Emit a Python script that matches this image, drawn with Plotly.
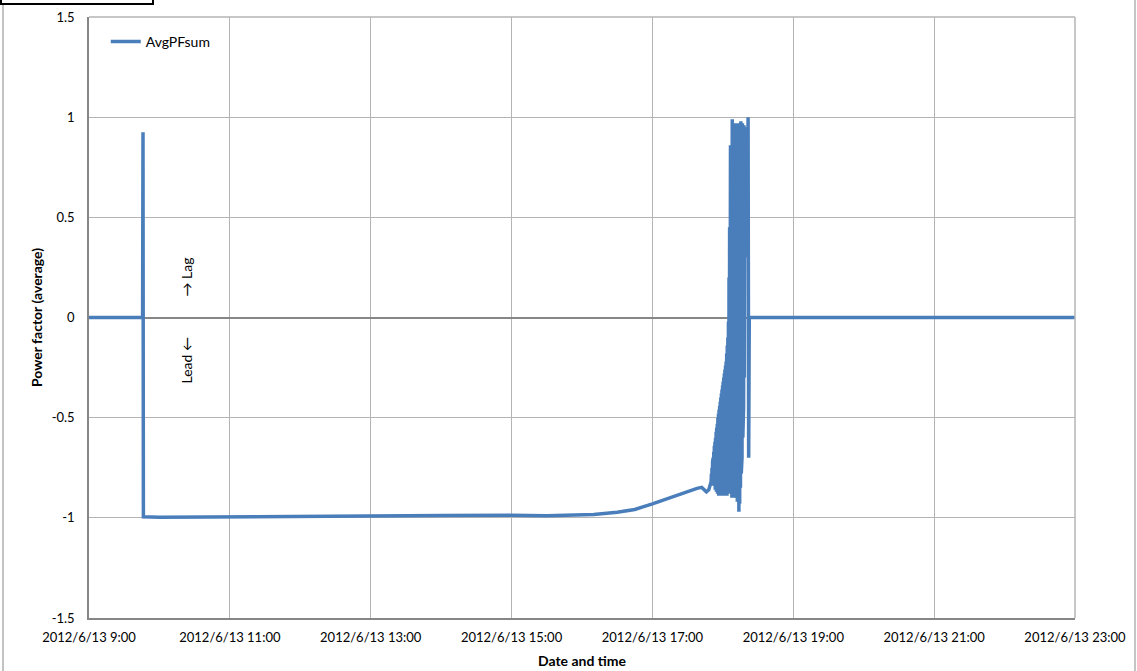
import plotly.graph_objects as go

DATE = "2012-06-13"

times = [
    "09:00:00", "09:45:40", "09:46:00", "09:46:20",
    "10:00:00", "10:30:00", "11:00:00", "11:30:00", "12:00:00", "12:30:00",
    "13:00:00", "13:30:00", "14:00:00", "14:30:00", "15:00:00", "15:30:00",
    "15:50:00", "16:10:00", "16:30:00", "16:45:00", "17:00:00", "17:15:00",
    "17:30:00", "17:38:00", "17:42:00", "17:44:00", "17:46:00", "17:48:00",
    "17:50:00", "17:50:15", "17:50:30", "17:50:45", "17:51:00", "17:51:15",
    "17:51:30", "17:51:45", "17:52:00", "17:52:15", "17:52:30", "17:52:45",
    "17:53:00", "17:53:15", "17:53:30", "17:53:45", "17:54:00", "17:54:15",
    "17:54:30", "17:54:45", "17:55:00", "17:55:15", "17:55:30", "17:55:45",
    "17:56:00", "17:56:15", "17:56:30", "17:56:45", "17:57:00", "17:57:15",
    "17:57:30", "17:57:45", "17:58:00", "17:58:15", "17:58:30", "17:58:45",
    "17:59:00", "17:59:15", "17:59:30", "17:59:45", "18:00:00", "18:00:15",
    "18:00:30", "18:00:45", "18:01:00", "18:01:15", "18:01:30", "18:01:45",
    "18:02:00", "18:02:15", "18:02:30", "18:02:45", "18:03:00", "18:03:15",
    "18:03:30", "18:03:45", "18:04:00", "18:04:15", "18:04:30", "18:04:45",
    "18:05:00", "18:05:15", "18:05:30", "18:05:45", "18:06:00", "18:06:30",
    "18:07:00", "18:07:20", "18:07:40", "18:08:00", "18:08:20", "18:08:40",
    "18:09:00", "18:09:20", "18:09:40", "18:10:00", "18:10:20", "18:10:40",
    "18:11:00", "18:11:20", "18:11:40", "18:12:00", "18:12:20", "18:12:40",
    "18:13:00", "18:13:20", "18:13:40", "18:14:00", "18:14:20", "18:14:40",
    "18:15:00", "18:15:20", "18:15:40", "18:16:00", "18:16:20", "18:16:40",
    "18:17:00", "18:17:20", "18:17:40", "18:18:00", "18:18:20", "18:18:40",
    "18:19:00", "18:19:30", "18:20:00", "18:20:30", "18:21:00", "18:21:30",
    "18:22:00", "18:22:30", "23:00:00",
]

avg_pf_sum = [
    0.0, 0.0, 0.925, -0.995,
    -0.997, -0.996, -0.997, -0.996, -0.997, -0.995,
    -0.993, -0.990, -0.988, -0.986, -0.987, -0.990,
    -0.988, -0.983, -0.972, -0.958, -0.930, -0.898,
    -0.868, -0.853, -0.848, -0.858, -0.870, -0.860,
    -0.82, -0.78, -0.84, -0.75, -0.83, -0.72,
    -0.80, -0.70, -0.82, -0.67, -0.84, -0.64,
    -0.80, -0.62, -0.86, -0.60, -0.83, -0.57,
    -0.87, -0.55, -0.85, -0.53, -0.88, -0.50,
    -0.86, -0.48, -0.89, -0.46, -0.87, -0.44,
    -0.89, -0.42, -0.86, -0.40, -0.88, -0.38,
    -0.85, -0.36, -0.89, -0.34, -0.87, -0.32,
    -0.88, -0.30, -0.86, -0.28, -0.89, -0.26,
    -0.85, -0.24, -0.88, -0.22, -0.86, -0.18,
    -0.89, -0.14, -0.87, -0.10, -0.88, -0.02,
    -0.86, 0.20, -0.88, 0.45, -0.86, 0.86,
    -0.80, 0.80, -0.90, 0.99, -0.85, 0.95,
    -0.88, 0.90, -0.82, 0.97, -0.90, 0.92,
    -0.86, 0.96, -0.80, 0.93, -0.92, 0.97,
    -0.88, 0.95, -0.97, 0.90, -0.93, 0.96,
    -0.85, 0.98, -0.78, 0.94, -0.70, 0.97,
    -0.60, 0.92, -0.45, 0.96, -0.30, 0.90,
    0.30, 0.85, 0.50, 0.95, 0.55, 1.00,
    -0.70, 0.0, 0.0,
]

x_tick_times = ["09:00", "11:00", "13:00", "15:00", "17:00", "19:00", "21:00", "23:00"]
x_tick_labels = ["2012/6/13 9:00", "2012/6/13 11:00", "2012/6/13 13:00", "2012/6/13 15:00",
                 "2012/6/13 17:00", "2012/6/13 19:00", "2012/6/13 21:00", "2012/6/13 23:00"]
y_tick_vals = [1.5, 1, 0.5, 0, -0.5, -1, -1.5]
y_tick_labels = ["1.5", "1", "0.5", "0", "-0.5", "-1", "-1.5"]

FONT = "Lato"
LINE = "#4a7ebb"
GRID = "#b4b4b4"
AXIS = "#868686"

x = [f"{DATE} {t}" for t in times]

fig = go.Figure()
fig.add_trace(go.Scatter(
    x=x, y=avg_pf_sum, mode="lines", name="AvgPFsum",
    line=dict(color=LINE, width=3.5),
))

fig.update_layout(
    width=1137, height=671,
    margin=dict(l=89, r=62, t=17, b=53),
    paper_bgcolor="white", plot_bgcolor="white",
    font=dict(family=FONT, size=13, color="black"),
    showlegend=True,
    legend=dict(x=0.017, y=0.985, xanchor="left", yanchor="top",
                bgcolor="rgba(0,0,0,0)", font=dict(family=FONT, size=14)),
    xaxis=dict(
        range=[f"{DATE} 09:00:00", f"{DATE} 23:00:00"],
        tickvals=[f"{DATE} {t}:00" for t in x_tick_times],
        ticktext=x_tick_labels,
        showgrid=True, gridcolor=GRID, gridwidth=1,
        showline=True, linecolor=AXIS, linewidth=1.5,
        ticks="outside", ticklen=7, tickcolor="rgba(0,0,0,0)",
        tickfont=dict(family=FONT, size=13),
        title=dict(text="<b>Date and time</b>", font=dict(family=FONT, size=14), standoff=12),
        zeroline=False, automargin=False,
    ),
    yaxis=dict(
        range=[-1.5, 1.5],
        tickvals=y_tick_vals, ticktext=y_tick_labels,
        showgrid=True, gridcolor=GRID, gridwidth=1,
        showline=True, linecolor=AXIS, linewidth=1.5,
        zeroline=True, zerolinecolor=AXIS, zerolinewidth=1.5,
        ticks="outside", ticklen=10, tickcolor="rgba(0,0,0,0)",
        tickfont=dict(family=FONT, size=13),
        title=dict(text="<b>Power factor (average)</b>", font=dict(family=FONT, size=14), standoff=6),
        automargin=False,
    ),
)

# top and right plot edges
fig.add_shape(type="line", xref="paper", yref="paper", x0=0, x1=1, y0=1, y1=1,
              line=dict(color=GRID, width=1.5))
fig.add_shape(type="line", xref="paper", yref="paper", x0=1, x1=1, y0=0, y1=1,
              line=dict(color=GRID, width=1.5))

# outer chart frame
W, H = 986.0, 601.0
def px(v):
    return (v - 89) / W
def py(v):
    return (618 - v) / H

fig.add_shape(type="line", xref="paper", yref="paper", x0=px(3), x1=px(3), y0=py(5), y1=py(680),
              line=dict(color=AXIS, width=1))
fig.add_shape(type="line", xref="paper", yref="paper", x0=px(1135), x1=px(1135), y0=py(-5), y1=py(680),
              line=dict(color="#b0b0b0", width=1.5))
fig.add_shape(type="rect", xref="paper", yref="paper", x0=px(1), x1=px(153), y0=py(4), y1=py(-10),
              line=dict(color="black", width=2), fillcolor="white")

# Lag / Lead annotations
fig.add_annotation(xref="paper", yref="paper", x=px(176), y=py(277), text="→ Lag",
                   textangle=-90, showarrow=False, font=dict(family=FONT, size=14))
fig.add_annotation(xref="paper", yref="paper", x=px(176), y=py(361), text="Lead ←",
                   textangle=-90, showarrow=False, font=dict(family=FONT, size=14))

fig.write_html("out.html", config={"displayModeBar": False},
               post_script="document.body.style.margin='0';document.body.style.padding='0';")
